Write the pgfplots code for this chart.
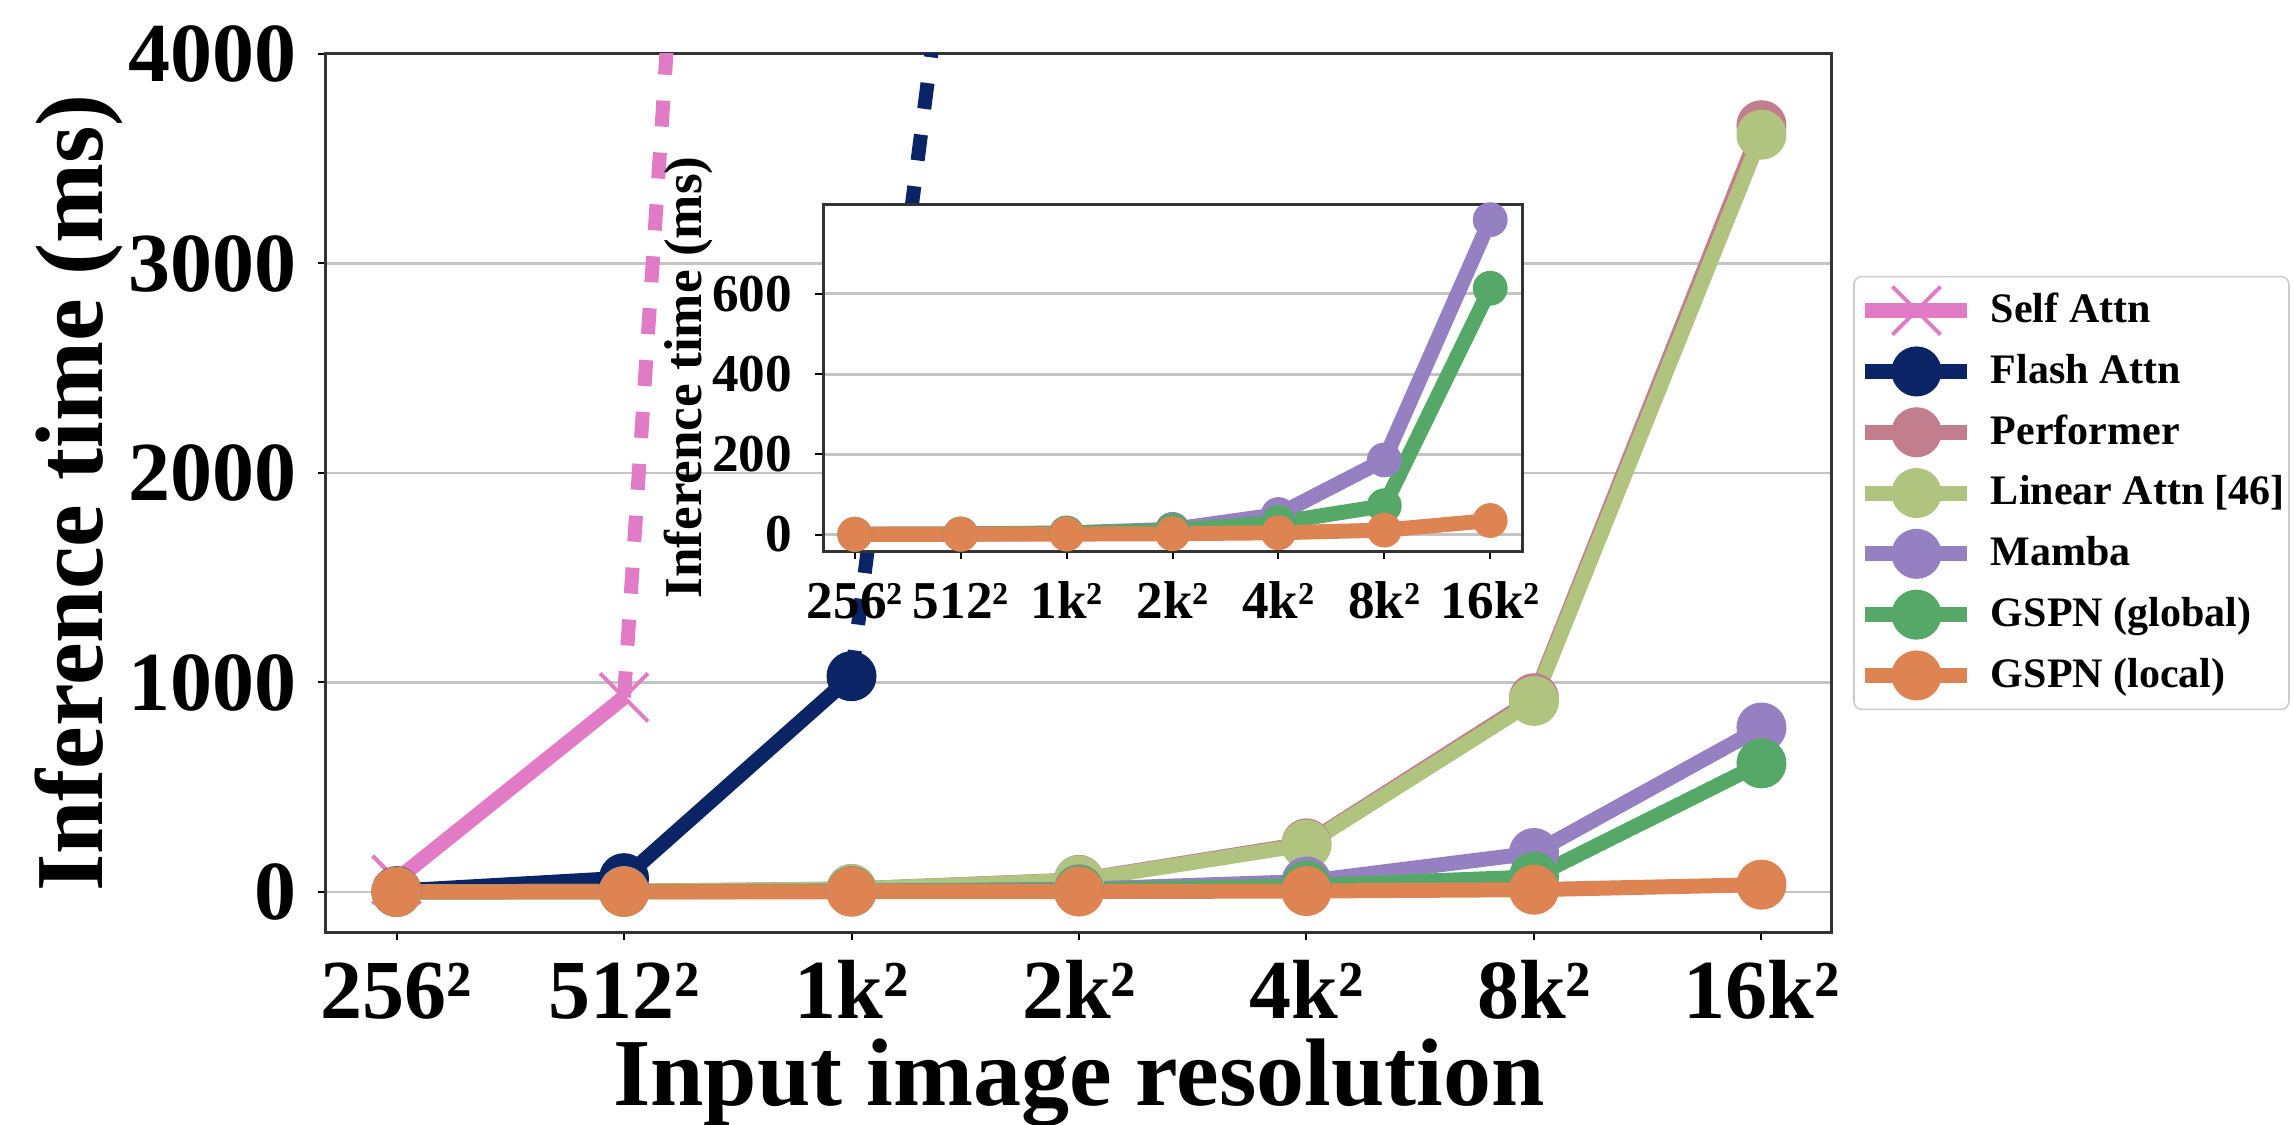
\documentclass[border=0pt]{standalone}
\usepackage{fontspec}
\setmainfont{Liberation Serif}
\usepackage{pgfplots}
\pgfplotsset{compat=1.18}

\definecolor{cSelf}{HTML}{E27BC5}
\definecolor{cFlash}{HTML}{0B2465}
\definecolor{cPerf}{HTML}{C27D8E}
\definecolor{cLin}{HTML}{B0C47F}
\definecolor{cMamba}{HTML}{9581C1}
\definecolor{cGlob}{HTML}{55A868}
\definecolor{cLoc}{HTML}{DD8452}
\definecolor{cGrid}{HTML}{C4C4C4}
\definecolor{cFrame}{HTML}{333333}

\pgfplotsset{
  ser/.style={color=#1, line width=3.75pt, mark=*, mark size=6pt,
    mark options={solid, fill=#1, draw=#1, line width=0.5pt}},
  serin/.style={color=#1, line width=3.75pt, mark=*, mark size=4.1pt,
    mark options={solid, fill=#1, draw=#1, line width=0.5pt}},
}

\begin{document}
\begin{tikzpicture}
\begin{axis}[
  at={(0pt,0pt)}, anchor=south west,
  scale only axis, width=376.5pt, height=219.5pt,
  xmin=-0.31, xmax=6.31, ymin=-191, ymax=4000,
  xtick={0,1,2,3,4,5,6},
  xticklabels={256²,512²,1k²,2k²,4k²,8k²,16k²},
  ytick={0,1000,2000,3000,4000},
  yticklabels={0,1000,2000,3000,4000},
  xtick pos=bottom, ytick pos=left,
  tick align=outside, major tick length=2pt,
  tick style={black, line width=0.5pt},
  ymajorgrids, grid style={cGrid, line width=0.7pt},
  axis line style={cFrame, line width=0.75pt},
  ticklabel style={font=\fontsize{21}{25}\selectfont\bfseries},
  xticklabel style={anchor=base, yshift=-19.5pt, inner sep=0pt},
  yticklabel style={anchor=east, inner sep=0pt, xshift=-5.25pt},
  label style={font=\fontsize{24}{28}\selectfont\bfseries},
  xlabel={Input image resolution},
  ylabel={Inference time (ms)},
  xlabel style={at={([yshift=-43.25pt]axis description cs:0.5,0)}, anchor=base, inner sep=0pt},
  ylabel style={at={([xshift=-55.75pt]axis description cs:0,0.5)}, anchor=base, inner sep=0pt},
  legend style={at={(1,0.5)}, anchor=west, xshift=5.5pt,
    draw=black!20, rounded corners=2pt, fill=white,
    font=\fontsize{10.5}{12.6}\selectfont\bfseries,
    inner xsep=1pt, inner ysep=2.5pt, row sep=3.2pt, outer sep=0pt,
    nodes={inner sep=0pt, text depth=0.15em},
    /tikz/every odd column/.style={column sep=4pt}},
  legend cell align=left,
  legend image code/.code={\draw[mark repeat=2,mark phase=2] plot coordinates {(0pt,0pt) (12.75pt,0pt) (25.5pt,0pt)};},
]
\addplot[color=cSelf, line width=3.75pt, mark=x, mark size=8.5pt, mark options={solid, line width=1pt}]
  coordinates {(0,58) (1,929)};
\addlegendentry{Self Attn}
\addplot[color=cSelf, line width=3.5pt, dash pattern=on 6.5pt off 6.5pt, forget plot]
  coordinates {(1,929) (2,17400)};
\addplot[ser=cFlash] coordinates {(0,4) (1,66) (2,1030)};
\addlegendentry{Flash Attn}
\addplot[color=cFlash, line width=3.5pt, dash pattern=on 6.5pt off 6.5pt, forget plot]
  coordinates {(2,1030) (3,9500)};
\addplot[ser=cPerf] coordinates {(0,0.9) (1,3.6) (2,14.5) (3,58) (4,232) (5,925) (6,3660)};
\addlegendentry{Performer}
\addplot[ser=cLin] coordinates {(0,0.9) (1,3.5) (2,14) (3,56) (4,226) (5,912) (6,3615)};
\addlegendentry{Linear Attn [46]}
\addplot[ser=cMamba] coordinates {(0,0.8) (1,1.5) (2,4) (3,13) (4,50) (5,186) (6,785)};
\addlegendentry{Mamba}
\addplot[ser=cGlob] coordinates {(0,0.6) (1,1.2) (2,3.5) (3,10) (4,30) (5,72) (6,614)};
\addlegendentry{GSPN (global)}
\addplot[ser=cLoc] coordinates {(0,0.5) (1,0.7) (2,1.1) (3,2.1) (4,4.5) (5,11) (6,35)};
\addlegendentry{GSPN (local)}
\end{axis}

\begin{axis}[
  at={(124.25pt,95.25pt)}, anchor=south west,
  scale only axis, width=174.75pt, height=86.75pt,
  axis background/.style={fill=white},
  xmin=-0.3, xmax=6.3, ymin=-41, ymax=824,
  xtick={0,1,2,3,4,5,6},
  xticklabels={256²,512²,1k²,2k²,4k²,8k²,16k²},
  ytick={0,200,400,600},
  yticklabels={0,200,400,600},
  xtick pos=bottom, ytick pos=left,
  tick align=outside, major tick length=2pt,
  tick style={black, line width=0.5pt},
  ymajorgrids, grid style={cGrid, line width=0.7pt},
  axis line style={cFrame, line width=0.75pt},
  ticklabel style={font=\fontsize{13.3}{16}\selectfont\bfseries},
  xticklabel style={anchor=base, yshift=-14.75pt, inner sep=0pt},
  yticklabel style={anchor=east, inner sep=0pt, xshift=-5.5pt},
  ylabel={Inference time (ms)},
  ylabel style={font=\fontsize{13.3}{16}\selectfont\bfseries,
    at={([xshift=-30.5pt]axis description cs:0,0.5)}, anchor=base, inner sep=0pt},
]
\addplot[serin=cMamba] coordinates {(0,0.8) (1,1.5) (2,4) (3,13) (4,50) (5,186) (6,785)};
\addplot[serin=cGlob] coordinates {(0,0.6) (1,1.2) (2,3.5) (3,10) (4,30) (5,72) (6,614)};
\addplot[serin=cLoc] coordinates {(0,0.5) (1,0.7) (2,1.1) (3,2.1) (4,4.5) (5,11) (6,35)};
\end{axis}
\pgfresetboundingbox
\useasboundingbox (-81.5pt,-48.25pt) rectangle (491.75pt,233pt);
\end{tikzpicture}
\end{document}
